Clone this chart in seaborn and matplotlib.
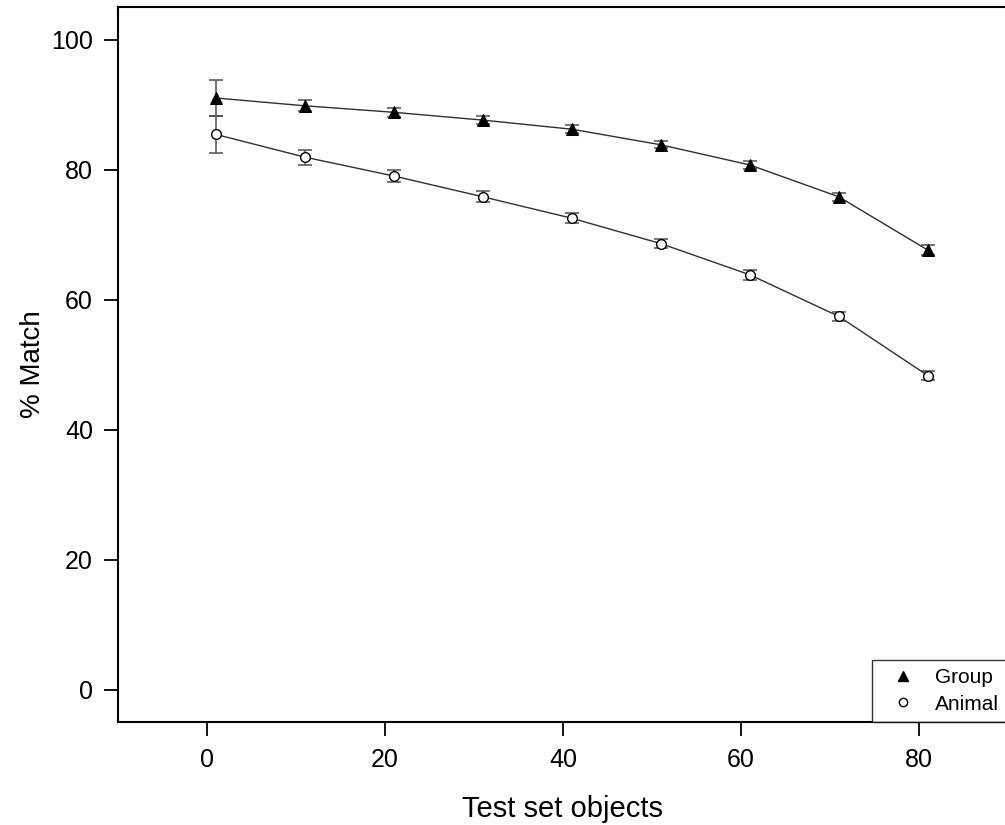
import matplotlib
matplotlib.use("Agg")
import matplotlib.pyplot as plt
from matplotlib.lines import Line2D
import seaborn as sns
import pandas as pd


# values
test_objects = [1, 11, 21, 31, 41, 51, 61, 71, 81]
group_match = [91.0, 89.8, 88.8, 87.6, 86.2, 83.8, 80.7, 75.8, 67.6]
group_err = [2.8, 0.85, 0.7, 0.6, 0.65, 0.55, 0.55, 0.6, 0.8]
animal_match = [85.4, 81.9, 79.0, 75.8, 72.5, 68.6, 63.8, 57.4, 48.3]
animal_err = [2.9, 1.15, 0.9, 0.85, 0.75, 0.7, 0.8, 0.7, 0.7]

df = pd.DataFrame({
    "objects": test_objects * 2,
    "match": group_match + animal_match,
    "err": group_err + animal_err,
    "series": ["Group"] * len(test_objects) + ["Animal"] * len(test_objects),
})

sns.set_theme(style="white")
plt.rcParams["font.family"] = ["Liberation Sans", "DejaVu Sans"]
plt.rcParams["text.color"] = "black"
plt.rcParams["axes.labelcolor"] = "black"
plt.rcParams["xtick.color"] = "black"
plt.rcParams["ytick.color"] = "black"

fig = plt.figure(figsize=(10.05, 8.25), dpi=100)
ax = fig.add_axes([118 / 1005, 1 - 722 / 825, (1007 - 118) / 1005, (722 - 7) / 825])

# error bars first so the markers sit on top
for name in ["Group", "Animal"]:
    sub = df[df["series"] == name]
    ax.errorbar(sub["objects"], sub["match"], yerr=sub["err"], fmt="none",
                ecolor="#505050", elinewidth=1.1, capsize=5, capthick=1.1, zorder=2)

sns.lineplot(data=df[df["series"] == "Group"], x="objects", y="match", ax=ax,
             color="#303030", linewidth=1.0, marker="^", markersize=9,
             markerfacecolor="black", markeredgecolor="black", zorder=3)
sns.lineplot(data=df[df["series"] == "Animal"], x="objects", y="match", ax=ax,
             color="#303030", linewidth=1.0, marker="o", markersize=7,
             markerfacecolor="white", markeredgecolor="black", markeredgewidth=1.0,
             zorder=3)

ax.set_xlim(-10, 89.9)
ax.set_ylim(-5, 105)
ax.set_xticks([0, 20, 40, 60, 80])
ax.set_yticks([0, 20, 40, 60, 80, 100])

for s in ax.spines.values():
    s.set_color("black")
    s.set_linewidth(1.5)
ax.tick_params(axis="both", direction="out", length=10, width=1.3, colors="black",
               labelsize=18, bottom=True, left=True)
ax.tick_params(axis="x", pad=9)
ax.tick_params(axis="y", pad=8)

ax.set_xlabel("Test set objects", fontsize=21, labelpad=16, color="black")
ax.set_ylabel("% Match", fontsize=20, labelpad=4, color="black")

handles = [
    Line2D([], [], linestyle="none", marker="^", markersize=7,
           markerfacecolor="black", markeredgecolor="black"),
    Line2D([], [], linestyle="none", marker="o", markersize=6,
           markerfacecolor="white", markeredgecolor="black"),
]
leg = ax.legend(handles, ["Group", "Animal"], loc="lower right", borderaxespad=0,
                fontsize=15, frameon=True, fancybox=False, shadow=False,
                handlelength=2.2, handletextpad=0.4, labelspacing=0.35,
                borderpad=0.4)
leg.get_frame().set_edgecolor("black")
leg.get_frame().set_linewidth(1.0)
for t in leg.get_texts():
    t.set_color("black")

fig.savefig("out.png", dpi=100)
